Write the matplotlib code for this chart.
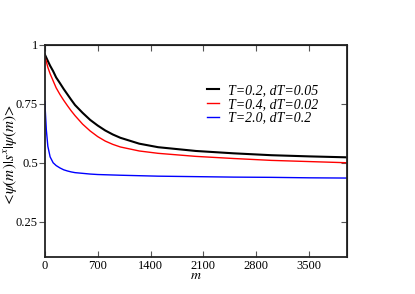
import numpy as np
from matplotlib import pyplot as plt

# values
m = [0, 20, 40, 70, 110, 150, 200, 250, 300, 350, 400, 500, 600, 700, 800, 900,
     1000, 1250, 1500, 2000, 2500, 3000, 3500, 4000]
sx_t02 = [0.960, 0.946, 0.932, 0.912, 0.889, 0.862, 0.838, 0.813, 0.790, 0.767,
          0.745, 0.712, 0.682, 0.658, 0.637, 0.620, 0.606, 0.581, 0.566, 0.550,
          0.540, 0.532, 0.527, 0.523]
sx_t04 = [0.950, 0.930, 0.905, 0.878, 0.848, 0.818, 0.790, 0.765, 0.742, 0.720,
          0.700, 0.664, 0.635, 0.611, 0.592, 0.578, 0.567, 0.550, 0.540, 0.527,
          0.518, 0.510, 0.505, 0.500]
sx_t20 = [0.760, 0.640, 0.570, 0.525, 0.500, 0.488, 0.478, 0.470, 0.465, 0.461,
          0.458, 0.455, 0.452, 0.450, 0.449, 0.448, 0.447, 0.445, 0.443, 0.441,
          0.439, 0.438, 0.436, 0.435]
labels = ["T=0.2, dT=0.05", "T=0.4, dT=0.02", "T=2.0, dT=0.2"]
xticks = [0, 700, 1400, 2100, 2800, 3500]
yticks = [0.25, 0.5, 0.75, 1]
ytick_labels = ["0.25", "0.5", "0.75", "1"]


def main():
    plt.rcParams['font.family'] = ['Liberation Serif', 'DejaVu Serif']
    plt.rcParams['mathtext.fontset'] = 'stix'

    fig = plt.figure(figsize=(4.15, 2.94), dpi=100)
    ax = fig.add_axes([0.108, 0.126, 0.728, 0.721])

    ax.plot(m, sx_t02, color='black', lw=1.5, label=labels[0])
    ax.plot(m, sx_t04, color='red', lw=1.0, label=labels[1])
    ax.plot(m, sx_t20, color='blue', lw=1.0, label=labels[2])

    ax.set_xlim(0, 4000)
    ax.set_ylim(0.1, 1)
    ax.set_xticks(xticks)
    ax.set_yticks(yticks)
    ax.set_yticklabels(ytick_labels)
    ax.tick_params(axis='x', direction='in', length=4, width=0.8,
                   labelsize=9, pad=2, color='#555555')
    ax.tick_params(axis='y', direction='out', length=4, width=0.8,
                   labelsize=9, pad=1, color='#555555')
    for s in ax.spines.values():
        s.set_linewidth(1.3)
        s.set_color('#222222')

    # inward ticks on top and right
    top = ax.secondary_xaxis('top')
    top.set_xticks(xticks)
    top.tick_params(direction='in', length=4, width=0.8, labeltop=False, color='#555555')
    right = ax.secondary_yaxis('right')
    right.set_yticks(yticks)
    right.tick_params(direction='in', length=4, width=0.8, labelright=False, color='#555555')

    ax.set_xlabel(r'$m$', fontsize=10, labelpad=-2)
    ax.set_ylabel(r'$<\!\psi(m)|s^{x}|\psi(m)\!>$', fontsize=11)
    ax.yaxis.set_label_coords(-0.086, 0.48)

    ax.legend(loc='upper left', bbox_to_anchor=(0.536, 0.815), frameon=False,
              handlelength=0.9, handletextpad=0.6, labelspacing=0.05,
              borderpad=0, borderaxespad=0,
              prop={'style': 'italic', 'size': 10})

    plt.savefig('out.png', dpi=100)


if __name__ == '__main__':
    main()
